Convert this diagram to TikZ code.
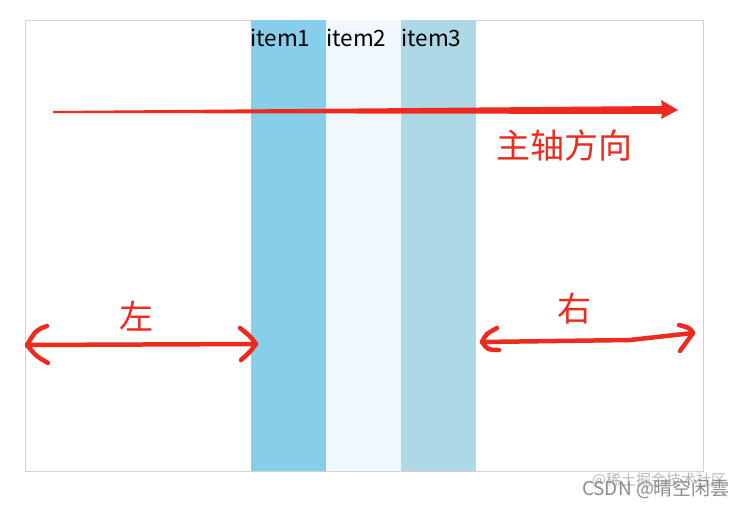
\documentclass[tikz,border=0pt]{standalone}
\usepackage{fontspec}
\setmainfont{Noto Sans CJK SC}
\newfontfamily\cjk{Noto Sans CJK SC}
\begin{document}
\begin{tikzpicture}[x=1pt,y=-1pt,
  redc/.style={draw=myred,line width=4.5pt,line cap=round,line join=round},
  itemlbl/.style={anchor=west,inner sep=0pt,font=\fontsize{22.5}{22.5}\selectfont,text=black},
  redlbl/.style={inner sep=0pt,text=myred,font=\cjk\fontsize{34}{34}\selectfont},
  wm/.style={inner sep=0pt,text=black!45,font=\cjk\fontsize{19}{19}\selectfont}]
\definecolor{myred}{HTML}{EE2A1E}
\definecolor{bordc}{HTML}{DCCCD4}
\definecolor{sky}{HTML}{87CEEB}
\definecolor{alice}{HTML}{F0F8FF}
\definecolor{lblue}{HTML}{ADD8E6}
\useasboundingbox (0,0) rectangle (744,506);
\fill[white] (0,0) rectangle (744,506);
% container
\draw[bordc,line width=0.8pt] (25,20) rectangle (703,471);
% items
\fill[sky] (251,20) rectangle (326,471);
\fill[alice] (326,20) rectangle (401,471);
\fill[lblue] (401,20) rectangle (476,471);
\node[itemlbl] (i1) at (250,38) {item1};
\node[itemlbl] (i2) at (326,38) {item2};
\node[itemlbl] (i3) at (401,38) {item3};
% main axis arrow
\coordinate (ms) at (53,112);
\coordinate (me) at (678,110);
\fill[myred] (ms) -- ++(0,-1) -- (662,106) -- (661,100) -- (me) -- (661,119) -- (662,114) -- (53,113) -- cycle;
\node[redlbl] (axis) at (564,146) {主轴方向};
% left arrow
\coordinate (la) at (27,345);
\coordinate (lb) at (256,344);
\draw[redc] (la) -- (lb);
\draw[redc] (47,326) .. controls (36,330) .. (la) .. controls (36,356) .. (48,363);
\draw[redc] (240,328) .. controls (250,336) .. (lb) .. controls (250,352) .. (241,360);
\node[redlbl] (left) at (136,316) {左};
% right arrow
\coordinate (ra) at (482,342);
\coordinate (rb) at (693,333);
\draw[redc] (ra) -- (630,340) -- (rb);
\draw[redc] (497,328) .. controls (486,334) .. (ra) .. controls (488,350) .. (499,350);
\draw[redc] (679,325) .. controls (690,328) .. (rb) .. controls (686,342) .. (680,351);
\node[redlbl] (right) at (574,309) {右};
% watermark
\node[wm,text=black!28,font=\cjk\fontsize{15}{15}\selectfont] (wm1) at (659,480) {@稀土掘金技术社区};
\node[wm] (wm2) at (656,489) {CSDN @晴空闲雲};
\end{tikzpicture}
\end{document}
